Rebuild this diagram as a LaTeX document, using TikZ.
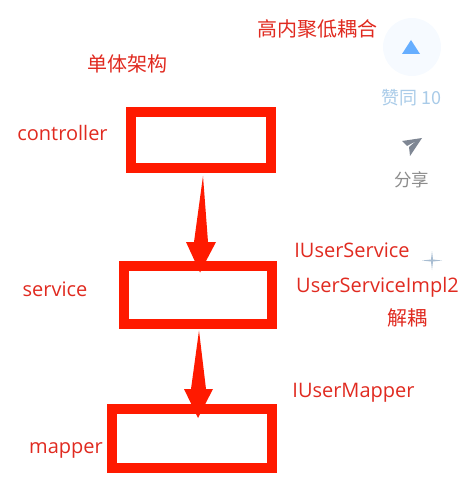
\documentclass[tikz,border=0pt]{standalone}
\usepackage{fontspec}
\setmainfont{Open Sans}
\newfontfamily\cjk{Noto Sans CJK SC}
\usetikzlibrary{calc}
\definecolor{boxred}{HTML}{FF1A00}
\definecolor{textred}{HTML}{E02A20}
\definecolor{agreeblue}{HTML}{A9CBE8}
\definecolor{agreefill}{HTML}{F6FAFF}
\definecolor{agreetip}{HTML}{66AEFF}
\definecolor{shareicon}{HTML}{7F8794}
\definecolor{sparkle}{HTML}{A8BDD2}
\begin{document}
\begin{tikzpicture}[x=1pt,y=-1pt,
layerbox/.style={rectangle,draw=boxred,line width=10pt,inner sep=0pt},
redlabel/.style={text=textred,font=\fontsize{20}{20}\selectfont,inner sep=0pt,anchor=base},
cjklabel/.style={text=textred,font=\cjk\fontsize{20}{20}\selectfont,inner sep=0pt}]
\useasboundingbox (0,0) rectangle (467,494);
% layers
\node[layerbox,minimum width=140pt,minimum height=56pt] (controller) at (201,140) {};
\node[layerbox,minimum width=148pt,minimum height=58pt] (service) at (198,294.5) {};
\node[layerbox,minimum width=160pt,minimum height=59pt] (mapper) at (192,438.5) {};
% arrows
\fill[boxred] ($(controller.south)+(2,3)$) -- (208,242) -- (216,242) -- ($(service.north)+(2,12)$)
  -- (186,242) -- (194,242) -- cycle;
\fill[boxred] ($(service.south)+(1,2)$) -- (206,389) -- (213,389) -- ($(mapper.north)+(6,14)$)
  -- (184,389) -- (191,389) -- cycle;
% labels
\node[cjklabel] (title) at (127.5,64) {单体架构};
\node[cjklabel] (cohesion) at (317.5,29) {高内聚低耦合};
\node[redlabel] (controllerlabel) at (62.5,141) {controller};
\node[redlabel] (servicelabel) at (55,296) {service};
\node[redlabel] (mapperlabel) at (66,453) {mapper};
\node[redlabel] (iservice) at (352,257) {IUserService};
\node[redlabel] (serviceimpl) at (377.5,292) {UserServiceImpl2};
\node[cjklabel] (decouple) at (407,318) {解耦};
\node[redlabel] (imapper) at (353.5,397) {IUserMapper};
% side buttons
\node[circle,fill=agreefill,minimum size=58pt,inner sep=0pt] (agreecircle) at (412,47) {};
\fill[agreetip] (411,40) -- (420,54) -- (402,54) -- cycle;
\node[text=agreeblue,font=\cjk\fontsize{18}{18}\selectfont,inner sep=0pt] (agree) at (411,98) {赞同 10};
\fill[shareicon] (402,141) -- (422,138) -- (410,156) -- (409,147) -- (416,141) -- (407,146) -- cycle;
\node[text=black!45,font=\cjk\fontsize{17.5}{17.5}\selectfont,inner sep=0pt] (share) at (411.5,180) {分享};
% sparkle
\fill[sparkle] (432,251) -- (433,259.5) -- (442,260.5) -- (433,261.5) -- (432,270) -- (431,261.5) -- (422,260.5) -- (431,259.5) -- cycle;
\end{tikzpicture}
\end{document}
